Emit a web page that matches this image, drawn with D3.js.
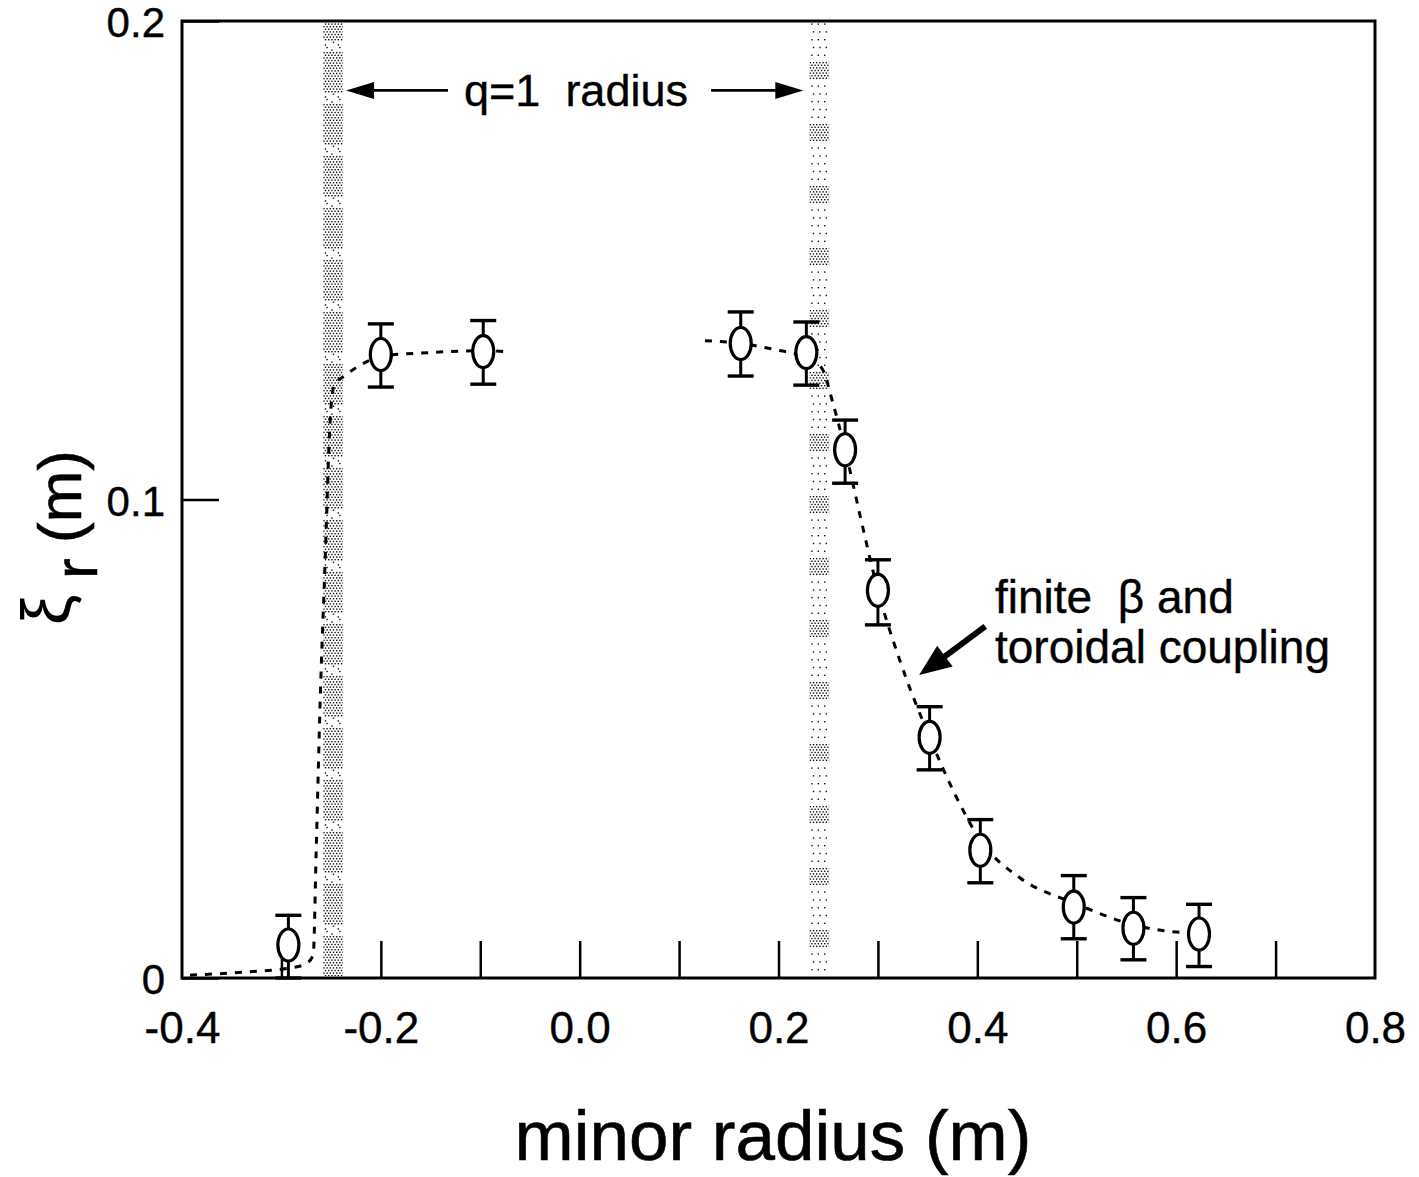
<!DOCTYPE html>
<html>
<head>
<meta charset="utf-8">
<script src="https://cdn.jsdelivr.net/npm/d3@7"></script>
<style>
  html, body { margin: 0; padding: 0; background: #fff; }
  svg { display: block; }
  text { font-family: "Liberation Sans", Arial, Helvetica, sans-serif; fill: #000; }
</style>
</head>
<body>
<svg id="chart" width="1419" height="1177"></svg>
<script>
// Measured radial displacement of the q=1 kink mode versus minor radius
const radius   = [-0.293, -0.200, -0.097, 0.162, 0.228, 0.267, 0.300, 0.352, 0.403, 0.497, 0.557, 0.623];
const xiR      = [0.0069, 0.1303, 0.1309, 0.1326, 0.1307, 0.1104, 0.0810, 0.0503, 0.0267, 0.0148, 0.0104, 0.0092];
const xiErrUp  = [0.0062, 0.0064, 0.0065, 0.0066, 0.0064, 0.0062, 0.0064, 0.0064, 0.0064, 0.0066, 0.0064, 0.0062];
const xiErrLo  = [0.0069, 0.0068, 0.0068, 0.0068, 0.0068, 0.0070, 0.0072, 0.0068, 0.0068, 0.0066, 0.0066, 0.0068];

// Model profile (dashed), inboard and outboard branches
const fitInX  = [-0.392, -0.332, -0.291, -0.276, -0.268, -0.265, -0.261, -0.256, -0.251, -0.247, -0.236, -0.216, -0.201, -0.151, -0.097, -0.075];
const fitInY  = [0.0006, 0.0013, 0.0021, 0.0029, 0.0048, 0.0267, 0.0580, 0.0873, 0.1165, 0.1238, 0.1259, 0.1286, 0.1299, 0.1307, 0.1311, 0.1309];
const fitOutX = [0.126, 0.162, 0.197, 0.228, 0.244, 0.254, 0.267, 0.282, 0.300, 0.322, 0.352, 0.378, 0.403, 0.443, 0.497, 0.557, 0.623];
const fitOutY = [0.1332, 0.1326, 0.1313, 0.1296, 0.1273, 0.1207, 0.1104, 0.0967, 0.0810, 0.0664, 0.0503, 0.0382, 0.0288, 0.0209, 0.0157, 0.0111, 0.0092];

// q=1 surface locations (shaded bands)
const qBandLo = [-0.258, 0.231];
const qBandHi = [-0.238, 0.251];

// Axis ticks
const xMinorTicks = [-0.3, -0.2, -0.1, 0.0, 0.1, 0.2, 0.3, 0.4, 0.5, 0.6, 0.7];
const xTickLabels = [-0.4, -0.2, 0.0, 0.2, 0.4, 0.6, 0.8];
const yTickValues = [0, 0.1, 0.2];
const yTickText   = ["0", "0.1", "0.2"];

const svg = d3.select("#chart");
const x = d3.scaleLinear().domain([-0.4, 0.8]).range([182, 1375]);
const y = d3.scaleLinear().domain([0, 0.2]).range([978, 21]);

const defs = svg.append("defs");

// Halftone stipple tiles for the shaded bands
function stipple(id, w, h, keep) {
  const p = defs.append("pattern").attr("id", id)
    .attr("patternUnits", "userSpaceOnUse").attr("width", w).attr("height", h);
  let row = 0;
  for (let yy = 0; yy < h; yy += 2.6, row++) {
    let col = 0;
    for (let xx = 0; xx < w; xx += 3.2, col++) {
      const xo = xx + (row % 2) * 1.6;
      if (keep(row, col, yy)) {
        p.append("rect").attr("x", xo).attr("y", yy)
          .attr("width", 1.4).attr("height", 1.4).attr("fill", "#111");
      }
    }
  }
}
stipple("bandDense", 32, 52, (r, c, yy) => yy < 40 || (r * 5 + c * 3) % 4 === 0);
stipple("bandSparse", 32, 62, (r, c, yy) => yy < 18 || (r * 5 + c * 3) % 6 === 0);

const bands = svg.append("g");
bands.selectAll("rect").data(qBandLo).join("rect")
  .attr("x", d => x(d))
  .attr("width", (d, i) => x(qBandHi[i]) - x(d))
  .attr("y", y(0.2) + 2)
  .attr("height", y(0) - y(0.2) - 4)
  .attr("fill", (d, i) => i === 0 ? "url(#bandDense)" : "url(#bandSparse)");

// Frame
svg.append("rect")
  .attr("x", x(-0.4)).attr("y", y(0.2))
  .attr("width", x(0.8) - x(-0.4)).attr("height", y(0) - y(0.2))
  .attr("fill", "none").attr("stroke", "#000").attr("stroke-width", 3);

// Inward minor ticks on the x axis
const xTicksG = svg.append("g").attr("transform", `translate(0,${y(0)})`)
  .call(d3.axisBottom(x).tickValues(xMinorTicks).tickSizeInner(-37).tickSizeOuter(0).tickFormat(""));
xTicksG.select(".domain").remove();
xTicksG.selectAll(".tick line").attr("stroke", "#000").attr("stroke-width", 2.5);

// x tick labels
const xLabG = svg.append("g").attr("transform", `translate(0,${y(0)})`)
  .call(d3.axisBottom(x).tickValues(xTickLabels).tickSize(0).tickPadding(34).tickFormat(d3.format(".1f")));
xLabG.select(".domain").remove();
xLabG.selectAll("text").attr("font-size", 44).attr("font-family", "Liberation Sans, Arial, sans-serif")
  .attr("stroke", "#000").attr("stroke-width", 0.4)
  .text(d => d3.format(".1f")(d).replace("−", "-"));

// y axis
const yAx = svg.append("g").attr("transform", `translate(${x(-0.4)},0)`)
  .call(d3.axisLeft(y).tickValues(yTickValues).tickSizeInner(-37).tickSizeOuter(0).tickPadding(17)
    .tickFormat((d, i) => yTickText[i]));
yAx.select(".domain").remove();
yAx.selectAll(".tick line").attr("stroke", "#000").attr("stroke-width", 2.5);
yAx.selectAll("text").attr("font-size", 42).attr("dy", "0.38em")
  .attr("stroke", "#000").attr("stroke-width", 0.4)
  .attr("font-family", "Liberation Sans, Arial, sans-serif");

// Dashed model curves
const line = d3.line().x(d => x(d[0])).y(d => y(d[1])).curve(d3.curveMonotoneX);
[[fitInX, fitInY], [fitOutX, fitOutY]].forEach(([xs, ys]) => {
  svg.append("path")
    .datum(xs.map((v, i) => [v, ys[i]]))
    .attr("d", line)
    .attr("fill", "none").attr("stroke", "#000")
    .attr("stroke-width", 3).attr("stroke-dasharray", "7,8");
});

// Data points with error bars
const pts = radius.map((r, i) => ({ r, v: xiR[i], hi: xiR[i] + xiErrUp[i], lo: Math.max(0, xiR[i] - xiErrLo[i]) }));
const pg = svg.append("g").selectAll("g").data(pts).join("g");
pg.append("line")
  .attr("x1", d => x(d.r)).attr("x2", d => x(d.r))
  .attr("y1", d => y(d.hi)).attr("y2", d => y(d.lo))
  .attr("stroke", "#000").attr("stroke-width", 3);
pg.append("line")
  .attr("x1", d => x(d.r) - 13).attr("x2", d => x(d.r) + 13)
  .attr("y1", d => y(d.hi)).attr("y2", d => y(d.hi))
  .attr("stroke", "#000").attr("stroke-width", 3.4);
pg.append("line")
  .attr("x1", d => x(d.r) - 13).attr("x2", d => x(d.r) + 13)
  .attr("y1", d => y(d.lo)).attr("y2", d => y(d.lo))
  .attr("stroke", "#000").attr("stroke-width", 3.4);
pg.append("ellipse")
  .attr("cx", d => x(d.r)).attr("cy", d => y(d.v))
  .attr("rx", 10.5).attr("ry", 16)
  .attr("fill", "#fff").attr("stroke", "#000").attr("stroke-width", 3.2);

// Arrowheads
function arrowHead(x0, y0, x1, y1, len, half) {
  const a = Math.atan2(y1 - y0, x1 - x0);
  const bx = x1 - len * Math.cos(a), by = y1 - len * Math.sin(a);
  const px = -Math.sin(a) * half, py = Math.cos(a) * half;
  svg.append("path")
    .attr("d", `M${x1},${y1}L${bx + px},${by + py}L${bx - px},${by - py}Z`)
    .attr("fill", "#000");
}

// q=1 radius label with arrows to both bands
const qy = y(0.1855);
svg.append("text").attr("x", 576).attr("y", qy + 16)
  .attr("text-anchor", "middle").attr("font-size", 45)
  .attr("stroke", "#000").attr("stroke-width", 0.4)
  .attr("xml:space", "preserve").text("q=1  radius");
const qLeftTip = x(qBandHi[0]) + 3, qRightTip = x(qBandLo[1]) - 6;
svg.append("line").attr("x1", 448).attr("x2", qLeftTip + 20).attr("y1", qy).attr("y2", qy)
  .attr("stroke", "#000").attr("stroke-width", 2.8);
arrowHead(448, qy, qLeftTip, qy, 28, 8.5);
svg.append("line").attr("x1", 711).attr("x2", qRightTip - 20).attr("y1", qy).attr("y2", qy)
  .attr("stroke", "#000").attr("stroke-width", 2.8);
arrowHead(711, qy, qRightTip, qy, 28, 8.5);

// Finite-beta annotation
const ann = svg.append("text").attr("x", 995).attr("font-size", 46)
  .attr("stroke", "#000").attr("stroke-width", 0.4);
ann.append("tspan").attr("x", 995).attr("y", 613).attr("xml:space", "preserve").text("finite  \u03B2 and");
ann.append("tspan").attr("x", 995).attr("y", 663).text("toroidal coupling");
const aTail = [x(0.408), y(0.0735)], aTip = [x(0.3415), y(0.0633)];
svg.append("line").attr("x1", aTail[0]).attr("y1", aTail[1])
  .attr("x2", aTip[0] + 18).attr("y2", aTip[1] - 13)
  .attr("stroke", "#000").attr("stroke-width", 6);
arrowHead(aTail[0], aTail[1], aTip[0], aTip[1], 32, 13);

// Axis titles
svg.append("text").attr("x", 773).attr("y", 1160)
  .attr("text-anchor", "middle").attr("font-size", 71)
  .attr("stroke", "#000").attr("stroke-width", 0.6).text("minor radius (m)");

const yt = svg.append("g").attr("transform", "translate(0,535) rotate(-90)");
yt.append("text").attr("x", -90).attr("y", 70)
  .attr("font-family", "DejaVu Serif, Liberation Serif, serif").attr("font-size", 68).text("\u03BE");
yt.append("text").attr("x", -44).attr("y", 97).attr("font-size", 62)
  .attr("stroke", "#000").attr("stroke-width", 0.6).text("r");
yt.append("text").attr("x", -8).attr("y", 81).attr("font-size", 62)
  .attr("stroke", "#000").attr("stroke-width", 0.6).text("(m)");
</script>
</body>
</html>
